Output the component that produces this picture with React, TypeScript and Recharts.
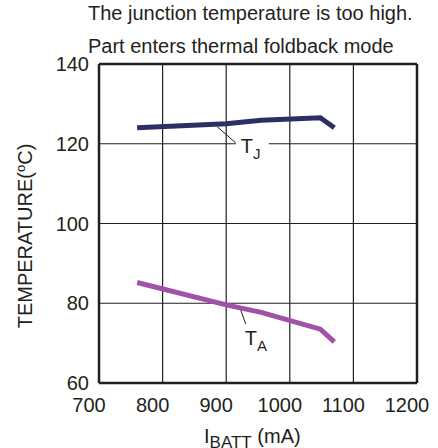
import React from 'react';
import {
  LineChart,
  Line,
  XAxis,
  YAxis,
  CartesianGrid,
  ReferenceLine,
  ReferenceArea,
  ReferenceDot,
} from 'recharts';

const currents = [760, 900, 955, 1048, 1070];
const tjValues = [124, 125, 125.9, 126.5, 124];
const taValues = [85.2, 79.6, 77.7, 73.5, 70.3];
const xTicks = [700, 800, 900, 1000, 1100, 1200];
const yTicks = [60, 80, 100, 120, 140];
const titleLines = ['The junction temperature is too high.', 'Part enters thermal foldback mode'];

const data = currents.map((c, i) => ({ x: c, tj: tjValues[i], ta: taValues[i] }));

const FONT = '"Liberation Sans", Arial, Helvetica, sans-serif';
const INK = '#231f20';

const SubLabel = (main: string, sub: string, dx: number, dy: number) => (props: any) => {
  const vb = props.viewBox || {};
  const x = (vb.cx !== undefined ? vb.cx : vb.x) + dx;
  const y = (vb.cy !== undefined ? vb.cy : vb.y) + dy;
  return (
    <text x={x} y={y} fontFamily={FONT} fontSize={20} fill={INK}>
      <tspan>{main}</tspan>
      <tspan fontSize={15} dy={6}>{sub}</tspan>
    </text>
  );
};

export default function App() {
  return (
    <div style={{ position: 'absolute', left: 0, top: 0, width: 438, height: 448, background: '#fff', overflow: 'hidden' }}>
      <div style={{ position: 'absolute', left: 0, top: 0 }}>
        <LineChart
          width={438}
          height={448}
          data={data}
          margin={{ top: 64, right: 21, bottom: 0, left: 0 }}
        >
          <CartesianGrid stroke={INK} strokeWidth={1.2} fill="none" />
          <XAxis
            type="number"
            dataKey="x"
            domain={[700, 1200]}
            ticks={xTicks}
            height={65}
            tickSize={0}
            tickMargin={15}
            tickLine={false}
            axisLine={{ stroke: INK, strokeWidth: 2.5 }}
            tick={{ fontFamily: FONT, fontSize: 20, fill: INK, dx: -10 }}
            interval={0}
          />
          <YAxis
            type="number"
            domain={[60, 140]}
            ticks={yTicks}
            width={99}
            tickSize={0}
            tickMargin={10}
            tickLine={false}
            axisLine={{ stroke: INK, strokeWidth: 2.5 }}
            tick={{ fontFamily: FONT, fontSize: 20, fill: INK }}
            interval={0}
          />
          <ReferenceLine x={1200} stroke={INK} strokeWidth={2.5} />
          <ReferenceLine y={140} stroke={INK} strokeWidth={2.5} />
          <ReferenceArea x1={915} x2={967} y1={119.5} y2={120.5} fill="#ffffff" fillOpacity={1} stroke="none" />
          <ReferenceLine
            segment={[{ x: 885, y: 124.4 }, { x: 915, y: 120.2 }]}
            stroke={INK}
            strokeWidth={1}
          />
          <ReferenceLine
            segment={[{ x: 921.7, y: 78.8 }, { x: 930.7, y: 74.8 }]}
            stroke={INK}
            strokeWidth={1}
          />
          <Line
            type="linear"
            dataKey="tj"
            stroke="#2e2e66"
            strokeWidth={5}
            dot={false}
            isAnimationActive={false}
          />
          <Line
            type="linear"
            dataKey="ta"
            stroke="#a052a8"
            strokeWidth={5}
            dot={false}
            isAnimationActive={false}
          />
          <ReferenceDot x={915} y={120} r={0} fill="none" stroke="none" label={SubLabel('T', 'J', 5, 9)} />
          <ReferenceDot x={930.7} y={74.8} r={0} fill="none" stroke="none" label={SubLabel('T', 'A', -1, 21)} />
        </LineChart>
      </div>
      <svg
        width={438}
        height={448}
        style={{ position: 'absolute', left: 0, top: 0, pointerEvents: 'none' }}
      >
        <text x={88} y={20} fontFamily={FONT} fontSize={20} fill={INK}>{titleLines[0]}</text>
        <text x={88} y={53} fontFamily={FONT} fontSize={20} fill={INK}>{titleLines[1]}</text>
        <text x={204} y={443} fontFamily={FONT} fontSize={20} fill={INK}>
          <tspan>I</tspan>
          <tspan fontSize={17} dy={5}>BATT</tspan>
          <tspan dy={-5}> (mA)</tspan>
        </text>
        <g transform="translate(32 236) rotate(-90)">
          <text x={0} y={0} textAnchor="middle" fontFamily={FONT} fontSize={20} fill={INK}>
            TEMPERATURE(<tspan fontSize={13} dy={-7}>o</tspan><tspan dy={7}>C)</tspan>
          </text>
        </g>
      </svg>
    </div>
  );
}
